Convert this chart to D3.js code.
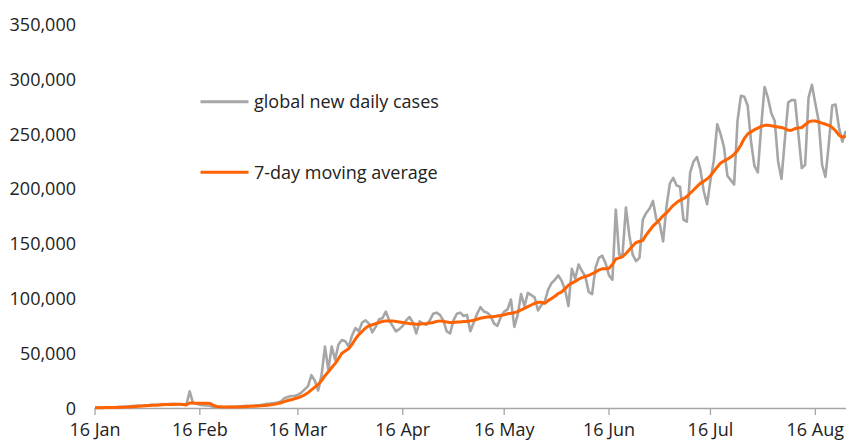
<!DOCTYPE html>
<html>
<head>
<meta charset="utf-8">
<script src="https://cdn.jsdelivr.net/npm/d3@7"></script>
<style>
  html, body { margin: 0; padding: 0; background: #ffffff; }
  svg { display: block; }
  text { font-family: "Open Sans", "DejaVu Sans", sans-serif; fill: #222222; }
</style>
</head>
<body>
<svg id="chart" width="846" height="441"></svg>
<script>
// ---- data ----
const startDate = "2020-01-16"; // first daily observation
const dailyCases = [
  300, 200, 300, 400, 500, 600, 700, 900, 1000, 1200,
  1500, 1800, 2000, 2200, 2100, 2500, 2600, 2900, 3000, 3200,
  3500, 3400, 3600, 3800, 3500, 3400, 3200, 2600, 15200, 4500,
  3800, 3000, 2600, 2300, 2000, 900, 600, 800, 700, 900,
  1000, 1100, 1200, 1500, 1800, 1900, 2000, 2200, 2500, 2800,
  3300, 3900, 4000, 4500, 5000, 6000, 9000, 10000, 11000, 11000,
  12000, 14000, 17000, 20000, 30000, 25000, 16000, 30000, 56000, 35000,
  56000, 44000, 58000, 62000, 61000, 56000, 66000, 73000, 70000, 78000,
  80000, 77000, 69000, 74000, 81000, 82000, 88000, 80000, 75000, 70000,
  72000, 75000, 80000, 83000, 78000, 68000, 79000, 77000, 76000, 80000,
  86000, 87000, 85000, 80000, 70000, 68000, 80000, 86000, 87000, 84000,
  85000, 70000, 78000, 86000, 92000, 88000, 87000, 84000, 77000, 75000,
  83000, 88000, 90000, 99000, 74000, 85000, 104000, 93000, 105000, 103000,
  101000, 89000, 94000, 97000, 108000, 114000, 117000, 121000, 116000, 108000,
  93000, 127000, 118000, 131000, 125000, 120000, 106000, 104000, 128000, 137000,
  139000, 132000, 121000, 117000, 181000, 140000, 140000, 183000, 158000, 140000,
  134000, 137000, 172000, 178000, 182000, 189000, 172000, 168000, 152000, 184000,
  205000, 210000, 203000, 202000, 172000, 170000, 215000, 225000, 229000, 218000,
  198000, 186000, 208000, 226000, 259000, 250000, 238000, 212000, 208000, 204000,
  262000, 285000, 284000, 276000, 243000, 221000, 215000, 257000, 293000, 283000,
  269000, 262000, 225000, 209000, 245000, 279000, 281000, 281000, 250000, 219000,
  222000, 283000, 295000, 278000, 262000, 222000, 211000, 241000, 276000, 277000,
  256000, 243000, 253000
];
const movingAverage = [
  300, 300, 300, 400, 400, 500, 500, 600, 700, 800,
  1000, 1200, 1400, 1600, 1800, 2000, 2200, 2400, 2600, 2800,
  3000, 3100, 3200, 3300, 3400, 3400, 3300, 3000, 4500, 4500,
  4400, 4300, 4300, 4300, 4200, 2400, 1400, 1200, 1000, 900,
  900, 900, 1000, 1100, 1200, 1400, 1500, 1700, 1900, 2100,
  2300, 2600, 2900, 3300, 4000, 4800, 5800, 6800, 7600, 8400,
  9300, 10500, 12000, 14000, 16500, 19000, 21500, 25000, 29500, 33000,
  37000, 40500, 45000, 50000, 52000, 54000, 58000, 63000, 67000, 70000,
  73000, 75000, 76000, 77000, 78000, 79000, 79500, 79500, 79500, 79000,
  78500, 78000, 77500, 77000, 77000, 76500, 76500, 77000, 77000, 77500,
  78000, 79000, 79500, 79000, 78500, 78000, 78000, 78500, 78500, 79000,
  79000, 79500, 80000, 81000, 82000, 82500, 83000, 83000, 83500, 84000,
  84500, 85000, 86000, 86500, 87000, 88000, 89500, 91000, 92500, 94000,
  95500, 96500, 96500, 95500, 98000, 100000, 102000, 104500, 106000, 109000,
  112000, 114000, 115500, 117500, 119000, 120000, 121000, 122500, 124000, 126000,
  127000, 127000, 127500, 131000, 136000, 137000, 138000, 141000, 144500, 148000,
  151000, 152000, 153000, 158000, 162000, 166000, 169000, 172000, 175500, 178000,
  181500, 185000, 187500, 189500, 191000, 193000, 196000, 199000, 202000, 205000,
  207000, 209000, 212000, 216000, 220000, 223500, 225500, 227000, 229000, 231500,
  235000, 240000, 246000, 250000, 252000, 254000, 255500, 257000, 258000, 258000,
  257500, 257000, 256500, 256000, 255000, 253500, 253500, 255000, 255500, 256000,
  258500, 261000, 262000, 262000, 261000, 260000, 259000, 258000, 256000, 253000,
  249000, 247000, 248000
];
const yTicks = [0, 50000, 100000, 150000, 200000, 250000, 300000, 350000];
const xTickDates = ["2020-01-16", "2020-02-16", "2020-03-16", "2020-04-16",
                    "2020-05-16", "2020-06-16", "2020-07-16", "2020-08-16"];
const xTickLabels = ["16 Jan", "16 Feb", "16 Mar", "16 Apr", "16 May", "16 Jun", "16 Jul", "16 Aug"];
const seriesNames = ["global new daily cases", "7-day moving average"];
const seriesColors = ["#a6a6a6", "#ff6200"];

// ---- layout ----
const svg = d3.select("#chart");
const parse = d3.utcParse("%Y-%m-%d");
const t0 = parse(startDate);
const dates = dailyCases.map((_, i) => d3.utcDay.offset(t0, i));

const x = d3.scaleUtc()
  .domain([parse("2020-01-16"), parse("2020-08-16")])
  .range([95, 815.3]);
const y = d3.scaleLinear().domain([0, 350000]).range([408, 24.5]);

// y labels (no axis line)
const fmt = d3.format(",");
svg.append("g").selectAll("text")
  .data(yTicks).join("text")
  .attr("x", 76)
  .attr("y", d => y(d) + 6.6)
  .attr("text-anchor", "end")
  .attr("font-size", 18)
  .text(d => fmt(d));

// x axis
const xAxis = svg.append("g");
xAxis.append("line")
  .attr("x1", x(parse("2020-01-16"))).attr("x2", 846)
  .attr("y1", y(0) + 0.5).attr("y2", y(0) + 0.5)
  .attr("stroke", "#a6a6a6").attr("stroke-width", 1.3);
xAxis.selectAll("line.tick")
  .data(xTickDates).join("line")
  .attr("class", "tick")
  .attr("x1", d => x(parse(d))).attr("x2", d => x(parse(d)))
  .attr("y1", y(0)).attr("y2", y(0) + 7)
  .attr("stroke", "#a6a6a6").attr("stroke-width", 1.3);
xAxis.selectAll("text")
  .data(xTickDates).join("text")
  .attr("x", d => x(parse(d)))
  .attr("y", 435.5)
  .attr("text-anchor", "middle")
  .attr("font-size", 18)
  .text((d, i) => xTickLabels[i]);

// lines
const line = d3.line()
  .x((d, i) => x(dates[i]))
  .y(d => y(d));

svg.append("path")
  .datum(dailyCases)
  .attr("d", line)
  .attr("fill", "none")
  .attr("stroke", seriesColors[0])
  .attr("stroke-width", 2.6)
  .attr("stroke-linejoin", "round");

svg.append("path")
  .datum(movingAverage)
  .attr("d", line)
  .attr("fill", "none")
  .attr("stroke", seriesColors[1])
  .attr("stroke-width", 3)
  .attr("stroke-linejoin", "round");

// legend
const legendY = [101.7, 172.3];
const legend = svg.append("g");
seriesNames.forEach((name, i) => {
  legend.append("line")
    .attr("x1", 200.5).attr("x2", 248.5)
    .attr("y1", legendY[i]).attr("y2", legendY[i])
    .attr("stroke", seriesColors[i]).attr("stroke-width", 3);
  legend.append("text")
    .attr("x", 254).attr("y", legendY[i] + 6.5)
    .attr("font-size", 18)
    .text(name);
});
</script>
</body>
</html>
